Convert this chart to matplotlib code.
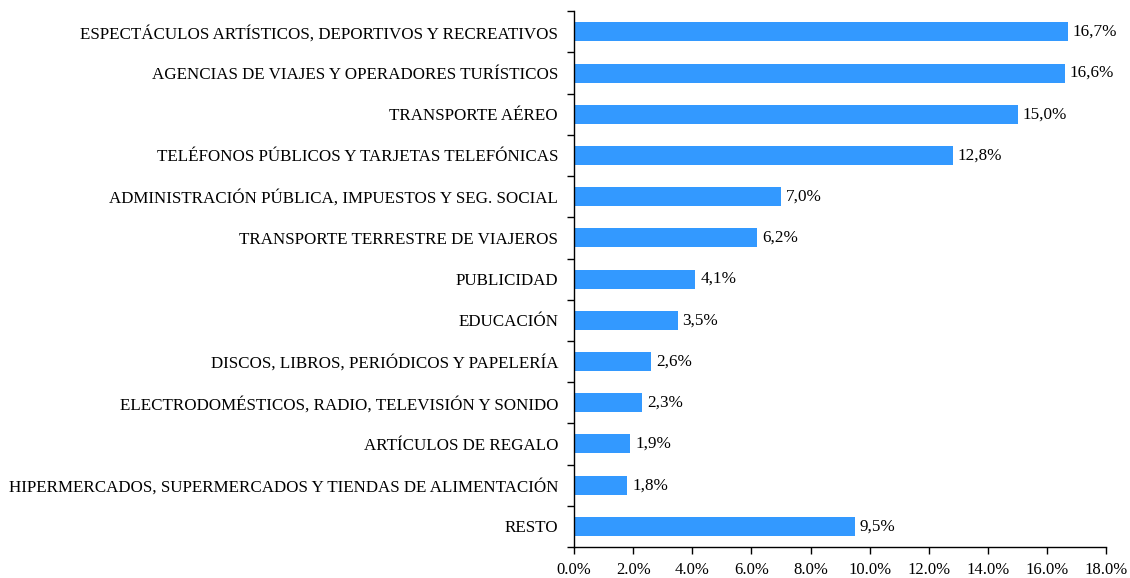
import matplotlib
matplotlib.use("Agg")
import matplotlib.pyplot as plt
import numpy as np
from matplotlib.ticker import FixedLocator, FuncFormatter

categories = [
    "ESPECTÁCULOS ARTÍSTICOS, DEPORTIVOS Y RECREATIVOS",
    "AGENCIAS DE VIAJES Y OPERADORES TURÍSTICOS",
    "TRANSPORTE AÉREO",
    "TELÉFONOS PÚBLICOS Y TARJETAS TELEFÓNICAS",
    "ADMINISTRACIÓN PÚBLICA, IMPUESTOS Y SEG. SOCIAL",
    "TRANSPORTE TERRESTRE DE VIAJEROS",
    "PUBLICIDAD",
    "EDUCACIÓN",
    "DISCOS, LIBROS, PERIÓDICOS Y PAPELERÍA",
    "ELECTRODOMÉSTICOS, RADIO, TELEVISIÓN Y SONIDO",
    "ARTÍCULOS DE REGALO",
    "HIPERMERCADOS, SUPERMERCADOS Y TIENDAS DE ALIMENTACIÓN",
    "RESTO",
]
values = [16.7, 16.6, 15.0, 12.8, 7.0, 6.2, 4.1, 3.5, 2.6, 2.3, 1.9, 1.8, 9.5]
xticks = [0, 2, 4, 6, 8, 10, 12, 14, 16, 18]

plt.rcParams['font.family'] = ['Liberation Serif', 'DejaVu Serif']

fig = plt.figure(figsize=(11.3, 5.78), dpi=100)
ax = fig.add_axes([0.508, 0.0536, 0.471, 0.927])

n = len(categories)
y = np.arange(n)
ax.barh(y, values, height=0.46, color='#3399FF', zorder=2)
ax.set_ylim(n - 0.5, -0.5)
ax.set_xlim(0, 18)

for yi, v in zip(y, values):
    ax.annotate(f"{v:.1f}%".replace('.', ','), (v, yi), xytext=(3.5, 0),
                textcoords='offset points', va='center', ha='left',
                fontsize=12.3, color='black')

ax.set_yticks(y)
ax.set_yticklabels(categories, fontsize=12.25)
ax.yaxis.set_minor_locator(FixedLocator(np.arange(-0.5, n, 1.0)))
ax.tick_params(axis='y', which='major', length=0, pad=11.5)
ax.tick_params(axis='y', which='minor', length=5, width=1, direction='out')

ax.set_xticks(xticks)
ax.xaxis.set_major_formatter(FuncFormatter(lambda x, p: f"{x:.1f}%"))
ax.tick_params(axis='x', which='major', length=5, width=1, direction='out', labelsize=12, pad=6)

for s in ['top', 'right']:
    ax.spines[s].set_visible(False)
for s in ['left', 'bottom']:
    ax.spines[s].set_linewidth(1)
    ax.spines[s].set_color('black')

fig.savefig("out.png", dpi=100)
